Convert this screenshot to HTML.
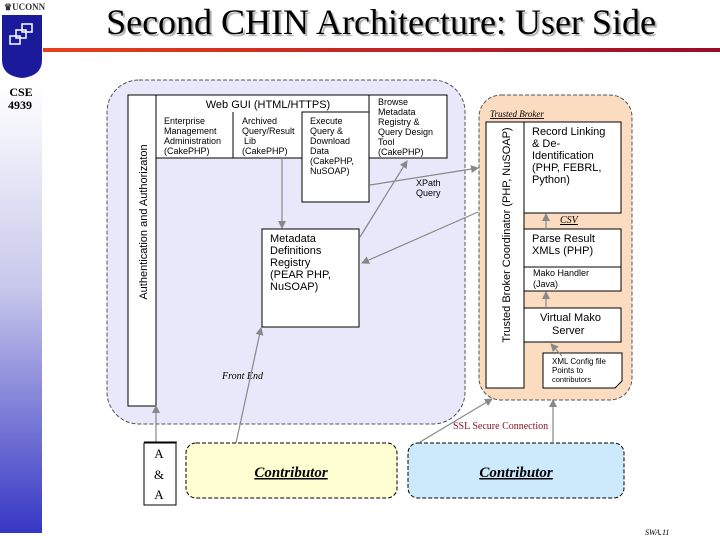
<!DOCTYPE html>
<html><head><meta charset="utf-8"><style>
html,body{margin:0;padding:0;background:#fff}
svg{display:block}
.s{font-family:"Liberation Sans",sans-serif;fill:#000}
.r{font-family:"Liberation Serif",serif}
</style></head><body>
<svg width="720" height="540" viewBox="0 0 720 540" xmlns="http://www.w3.org/2000/svg">
<defs>
<linearGradient id="side" x1="0" y1="0" x2="0" y2="1">
<stop offset="0" stop-color="#ffffff"/><stop offset="0.45" stop-color="#c8c8ec"/><stop offset="1" stop-color="#3636c4"/>
</linearGradient>
<linearGradient id="red" x1="0" y1="0" x2="1" y2="0">
<stop offset="0" stop-color="#e8401c"/><stop offset="1" stop-color="#9a0a2a"/>
</linearGradient>
<marker id="ar" markerWidth="8" markerHeight="8" refX="7" refY="4" orient="auto" markerUnits="userSpaceOnUse">
<path d="M0,0 L8,4 L0,8 z" fill="#888"/></marker>
</defs>
<rect x="0" y="85" width="42" height="448" fill="url(#side)"/>
<text x="4" y="10" class="r" font-size="9" font-weight="bold" fill="#333">♛UCONN</text>
<path d="M2,15 H42 V60 Q42,76 22,78 Q2,76 2,60 Z" fill="#1a1a9a"/>
<rect x="10" y="36" width="10" height="8" fill="none" stroke="#fff" stroke-width="1.5"/>
<rect x="16" y="30" width="10" height="8" fill="none" stroke="#fff" stroke-width="1.5"/>
<rect x="22" y="24" width="10" height="8" fill="none" stroke="#fff" stroke-width="1.5"/>
<text x="21" y="96" class="r" font-size="12" font-weight="bold" text-anchor="middle">CSE</text>
<text x="20" y="109" class="r" font-size="12" font-weight="bold" text-anchor="middle">4939</text>
<text x="381" y="34" class="r" font-size="36" text-anchor="middle" fill="#000" style="text-shadow:2px 2px 1px #aaa">Second CHIN Architecture: User Side</text>
<rect x="43" y="48" width="677" height="4" fill="url(#red)"/>

<rect x="107" y="80" width="358" height="344" rx="32" fill="#e8e8fa" stroke="#555" stroke-dasharray="4,2"/>
<rect x="128" y="95" width="28" height="311" fill="#fff" stroke="#000"/>
<text transform="translate(147,222) rotate(-90)" class="s" font-size="11" text-anchor="middle">Authentication and Authorizaton</text>
<rect x="156" y="95" width="213" height="63" fill="#fff" stroke="#000"/>
<line x1="233" y1="112" x2="233" y2="158" stroke="#000"/>
<rect x="302" y="112" width="67" height="90" fill="#fff" stroke="#000"/>
<line x1="302" y1="112" x2="302" y2="158" stroke="#000"/>
<rect x="369" y="95" width="78" height="63" fill="#fff" stroke="#000"/>
<text x="268" y="108" class="s" font-size="11" text-anchor="middle">Web GUI (HTML/HTTPS)</text>
<g class="s" font-size="9">
<text x="164" y="124">Enterprise</text><text x="164" y="134">Management</text><text x="164" y="144">Administration</text><text x="164" y="154">(CakePHP)</text>
<text x="242" y="124">Archived</text><text x="242" y="134">Query/Result</text><text x="244" y="144">Lib</text><text x="242" y="154">(CakePHP)</text>
<text x="310" y="124">Execute</text><text x="310" y="134">Query &amp;</text><text x="310" y="144">Download</text><text x="310" y="154">Data</text><text x="310" y="164">(CakePHP,</text><text x="310" y="174">NuSOAP)</text>
<text x="378" y="105">Browse</text><text x="378" y="115">Metadata</text><text x="378" y="125">Registry &amp;</text><text x="378" y="135">Query Design</text><text x="378" y="145">Tool</text><text x="378" y="155">(CakePHP)</text>
<text x="416" y="186">XPath</text><text x="416" y="196">Query</text>
</g>
<rect x="262" y="229" width="97" height="98" fill="#fff" stroke="#000"/>
<g class="s" font-size="11">
<text x="270" y="242">Metadata</text><text x="270" y="254">Definitions</text><text x="270" y="266">Registry</text><text x="270" y="278">(PEAR PHP,</text><text x="270" y="290">NuSOAP)</text>
</g>
<text x="222" y="379" class="r" font-size="10" font-style="italic">Front End</text>

<rect x="479" y="95" width="153" height="305" rx="22" fill="#fbdcc0" stroke="#555" stroke-dasharray="4,2"/>
<text x="490" y="117" class="r" font-size="9" font-style="italic" text-decoration="underline">Trusted Broker</text>
<rect x="486" y="122" width="38" height="266" fill="#fff" stroke="#000"/>
<text transform="translate(510,235) rotate(-90)" class="s" font-size="11" text-anchor="middle">Trusted Broker Coordinator    (PHP, NuSOAP)</text>
<rect x="524" y="122" width="97" height="91" fill="#fff" stroke="#000"/>
<text x="560" y="223" class="r" font-size="10" font-style="italic" text-decoration="underline">CSV</text>
<rect x="524" y="229" width="97" height="38" fill="#fff" stroke="#000"/>
<rect x="524" y="267" width="97" height="24" fill="#fff" stroke="#000"/>
<rect x="524" y="308" width="97" height="34" fill="#fff" stroke="#000"/>
<g class="s" font-size="11">
<text x="532" y="135">Record Linking</text><text x="532" y="147">&amp; De-</text><text x="532" y="159">Identification</text><text x="532" y="171">(PHP, FEBRL,</text><text x="532" y="183">Python)</text>
<text x="532" y="242">Parse Result</text><text x="532" y="254">XMLs (PHP)</text>
<text x="540" y="321">Virtual Mako</text><text x="552" y="334">Server</text>
</g>
<text x="533" y="276" class="s" font-size="9">Mako Handler</text><text x="533" y="287" class="s" font-size="9">(Java)</text>
<path d="M543,353 H622 V381 L615,388 H543 Z" fill="#fff" stroke="#000"/>
<text x="552" y="364" class="s" font-size="8">XML Config file</text><text x="552" y="373" class="s" font-size="8">Points to</text><text x="552" y="382" class="s" font-size="7.5">contributors</text>

<g stroke="#888" stroke-width="1.2" fill="none" marker-end="url(#ar)">
<line x1="282" y1="158" x2="282" y2="228"/>
<line x1="360" y1="237" x2="407" y2="161"/>
<line x1="370" y1="185" x2="478" y2="168"/>
<line x1="478" y1="212" x2="362" y2="263"/>
<line x1="236" y1="443" x2="261" y2="328"/>
<line x1="156" y1="443" x2="156" y2="406"/>
<line x1="420" y1="442" x2="492" y2="399"/>
<line x1="553" y1="442" x2="553" y2="400"/>
<line x1="546" y1="229" x2="546" y2="214"/>
<line x1="546" y1="308" x2="546" y2="292"/>
<line x1="562" y1="356" x2="551" y2="344"/>
</g>
<text x="453" y="429" class="r" font-size="10" fill="#8a1020">SSL Secure Connection</text>

<rect x="144" y="443" width="32" height="62" fill="#fff" stroke="#000"/>
<line x1="144" y1="442" x2="177" y2="442" stroke="#000"/>
<g class="r" font-size="13" text-anchor="middle"><text x="159" y="458">A</text><text x="159" y="479">&amp;</text><text x="159" y="499">A</text></g>
<rect x="186" y="443" width="211" height="55" rx="10" fill="#ffffd2" stroke="#000" stroke-dasharray="4,2"/>
<rect x="408" y="443" width="216" height="55" rx="10" fill="#cdeafd" stroke="#000" stroke-dasharray="4,2"/>
<text x="291" y="477" class="r" font-size="15" font-weight="bold" font-style="italic" text-anchor="middle" text-decoration="underline">Contributor</text>
<text x="516" y="477" class="r" font-size="15" font-weight="bold" font-style="italic" text-anchor="middle" text-decoration="underline">Contributor</text>
<text x="645" y="535" class="r" font-size="8" font-style="italic">SWA.11</text>
</svg>
</body></html>
